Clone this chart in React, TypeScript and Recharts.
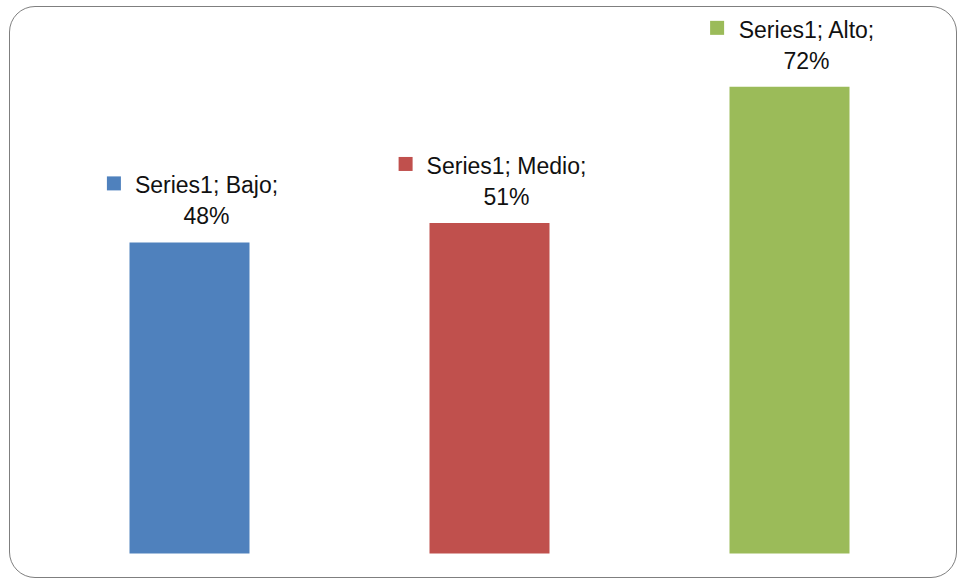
import React from 'react';
import { BarChart, Bar, XAxis, YAxis, Cell, LabelList } from 'recharts';

const categories = ['Bajo', 'Medio', 'Alto'];
const values = [0.48, 0.51, 0.72];
const seriesName = 'Series1';
const COLORS = ['#4F81BD', '#C0504D', '#9BBB59'];

const FONT = '"Liberation Sans", Arial, sans-serif';
const FONT_SIZE = 23;

const data = categories.map((c, i) => ({ name: c, value: values[i] }));

let ctx: CanvasRenderingContext2D | null = null;
function textWidth(s: string) {
  if (!ctx) ctx = document.createElement('canvas').getContext('2d');
  if (!ctx) return s.length * FONT_SIZE * 0.5;
  ctx.font = `${FONT_SIZE}px "Liberation Sans"`;
  return ctx.measureText(s).width;
}

function PointLabel(props: any) {
  const { x, y, width, value, index } = props;
  const cx = x + width / 2 + 17;
  const line1 = `${seriesName}; ${categories[index]};`;
  const line2 = `${Math.round(value * 100)}%`;
  const tw = textWidth(line1);
  const keyX = cx - tw / 2 - 28;
  return (
    <g>
      <rect x={keyX} y={y - 66} width={14} height={14} fill={COLORS[index]} />
      <text x={cx} y={y - 49} textAnchor="middle" fontSize={FONT_SIZE} fontFamily={FONT} fill="#111">{line1}</text>
      <text x={cx} y={y - 18} textAnchor="middle" fontSize={FONT_SIZE} fontFamily={FONT} fill="#111">{line2}</text>
    </g>
  );
}

export default function App() {
  return (
    <div style={{ position: 'absolute', left: 0, top: 0, width: 960, height: 581, background: '#fff' }}>
      <div style={{ position: 'absolute', left: 9, top: 6, width: 946, height: 570, border: '1.5px solid #7f7f7f', borderRadius: 26 }} />
      <div style={{ position: 'absolute', left: 0, top: 0 }}>
        <BarChart width={960} height={581} data={data} margin={{ top: 35, right: 20.5, bottom: 27.5, left: 39.5 }} barCategoryGap="30%">
          <XAxis dataKey="name" hide />
          <YAxis hide domain={[0, 0.8]} />
          <Bar dataKey="value" isAnimationActive={false}>
            {data.map((d, i) => <Cell key={d.name} fill={COLORS[i]} />)}
            <LabelList dataKey="value" content={PointLabel} />
          </Bar>
        </BarChart>
      </div>
    </div>
  );
}
